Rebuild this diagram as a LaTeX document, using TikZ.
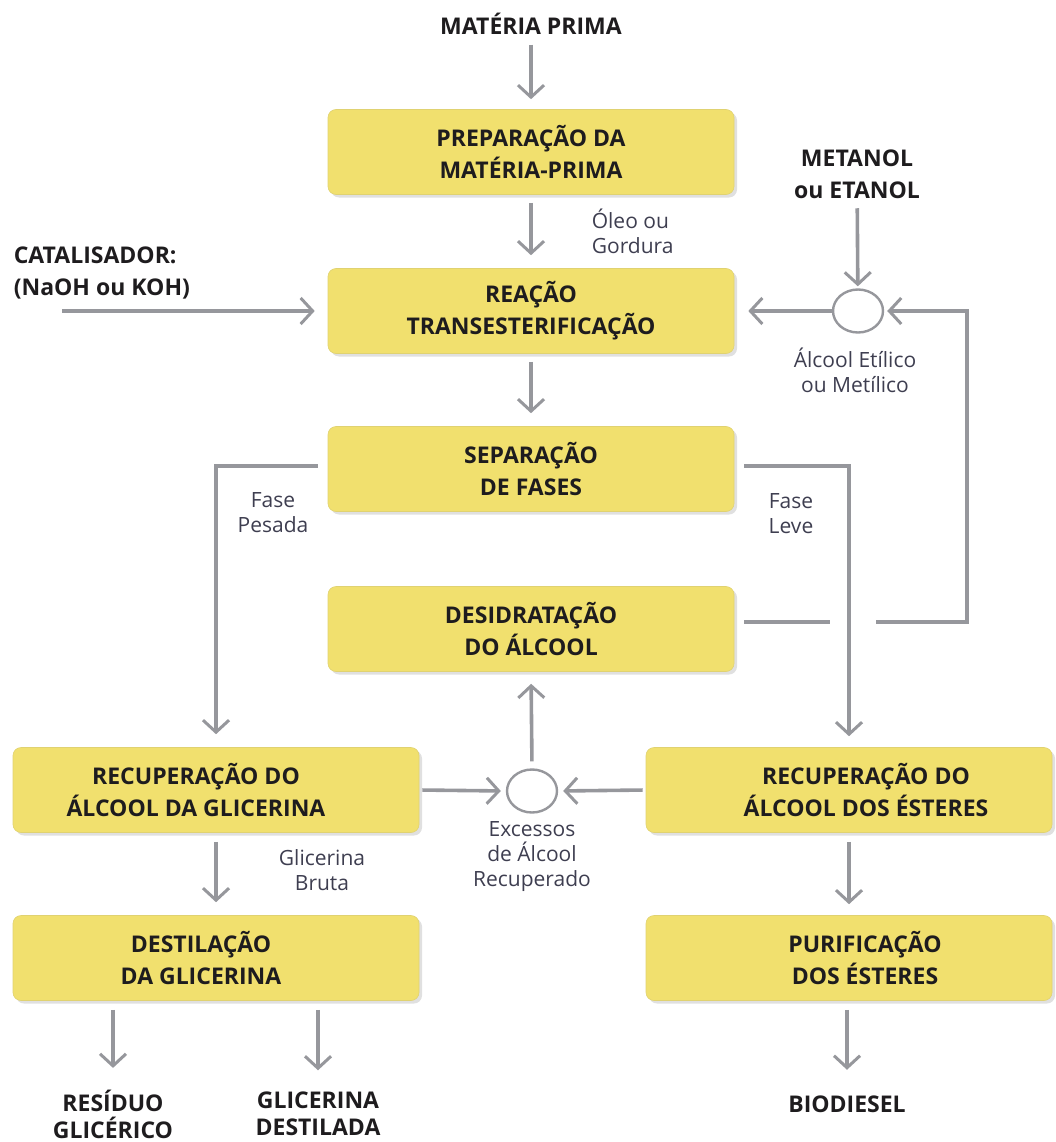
\documentclass[tikz,border=0pt]{standalone}
\usepackage{fontspec}
\setmainfont{Open Sans}
\usetikzlibrary{arrows.meta,positioning,shapes.geometric,shadows}
\definecolor{boxy}{RGB}{241,224,110}
\definecolor{wire}{RGB}{150,151,156}
\definecolor{ink}{RGB}{30,28,30}
\definecolor{note}{RGB}{62,62,80}
\tikzset{
  every picture/.style={x=1pt, y=-1pt, line width=3.6pt, line join=miter,
    >={Straight Barb[length=12pt,width=26pt,line width=3pt]}},
  % Kästen
  box/.style={rectangle, rounded corners=8pt, fill=boxy, draw=boxy!85!gray, line width=0.6pt,
    minimum width=406pt, minimum height=85pt, inner sep=0pt, align=center, text=ink,
    font=\fontsize{23}{32}\selectfont\bfseries,
    drop shadow={shadow xshift=3pt, shadow yshift=-3pt, opacity=0.12, fill=black}},
  boxtxt/.style={align=center, text=ink, font=\fontsize{23}{32}\selectfont\bfseries},
  head/.style={align=center, text=ink, font=\fontsize{23}{32}\selectfont\bfseries, inner sep=2pt},
  foot/.style={head, font=\fontsize{23}{27}\selectfont\bfseries},
  note/.style={align=center, text=note, font=\fontsize{21}{25}\selectfont, inner sep=0pt},
  % Linien
  flow/.style={wire, ->},
  wireline/.style={wire},
  joint/.style={ellipse, draw=wire, line width=2.4pt, minimum width=50pt, minimum height=43pt, inner sep=0pt},
}
\begin{document}
\begin{tikzpicture}
  \useasboundingbox (0,0) rectangle (1055,1142);
  % Kästen
  \node[box] (prep) at (531,152) {PREPARAÇÃO DA\\MATÉRIA-PRIMA};
  \node[box] (reac) at (531,311) {REAÇÃO\\TRANSESTERIFICAÇÃO};
  \node[box] (sep) at (531,469) {SEPARAÇÃO\\DE FASES};
  \node[box] (desid) at (531,629) {DESIDRATAÇÃO\\DO ÁLCOOL};
  \node[box, label={[boxtxt, xshift=-20pt]center:{RECUPERAÇÃO DO\\ÁLCOOL DA GLICERINA}}] (recg) at (216,790) {};
  \node[box, label={[boxtxt, xshift=17pt]center:{RECUPERAÇÃO DO\\ÁLCOOL DOS ÉSTERES}}] (rece) at (849,790) {};
  \node[box, label={[boxtxt, xshift=-15pt]center:{DESTILAÇÃO\\DA GLICERINA}}] (dest) at (216,958) {};
  \node[box, label={[boxtxt, xshift=16pt]center:{PURIFICAÇÃO\\DOS ÉSTERES}}] (puri) at (849,958) {};
  % Ein- und Ausgänge
  \node[head] (mp) at (531,24) {MATÉRIA PRIMA};
  \node[head, anchor=west, align=left] (cat) at (10,273) {CATALISADOR:\\(NaOH ou KOH)};
  \coordinate (catin) at (62,311);
  \node[head] (met) at (857,174) {METANOL\\ou ETANOL};
  \node[foot] (res) at (113,1114) {RESÍDUO\\GLICÉRICO};
  \node[foot] (glid) at (318,1114) {GLICERINA\\DESTILADA};
  \node[foot] (bio) at (847,1104) {BIODIESEL};
  % Mischpunkte
  \node[joint] (mix) at (858,311) {};
  \node[joint] (exc) at (532,791) {};
  % Beschriftungen
  \node[note, anchor=west, align=left] at (590,231) {Óleo ou\\Gordura};
  \node[note] at (855,370) {Álcool Etílico\\ou Metílico};
  \node[note] at (273,513) {Fase\\Pesada};
  \node[note] at (791,514) {Fase\\Leve};
  \node[note] at (532,857) {Excessos\\de Álcool\\Recuperado};
  \node[note] at (322,870) {Glicerina\\Bruta};
  % Hauptlinie
  \draw[flow, shorten <=6pt, shorten >=10pt] (mp) -- (prep);
  \draw[flow, shorten <=8pt, shorten >=13pt] (prep) -- (reac);
  \draw[flow, shorten <=8pt, shorten >=13pt] (reac) -- (sep);
  \draw[flow, shorten >=13pt] (catin) -- (reac.west);
  \draw[flow, shorten <=6pt, shorten >=2pt] (met) -- (mix);
  \draw[flow, shorten >=14pt] (mix) -- (reac.east);
  % Phasentrennung
  \draw[flow, shorten <=10pt, shorten >=13pt] ([yshift=3pt]sep.west) -| (recg.north);
  \draw[flow, shorten <=10pt, shorten >=11pt] ([yshift=3pt]sep.east) -| (rece.north);
  % Alkoholrückführung
  \coordinate (gapL) at (830,622);
  \coordinate (gapR) at (876,622);
  \coordinate (loop) at (967,622);
  \draw[wireline, shorten <=10pt] (desid.east |- gapL) -- (gapL);
  \draw[flow, shorten >=3pt] (gapR) -- (loop) |- (mix.east);
  \draw[flow, shorten <=3pt, shorten >=5pt] (recg.east) -- (exc.west);
  \draw[flow, shorten <=3pt, shorten >=5pt] (rece.west) -- (exc.east);
  \draw[flow, shorten <=7pt, shorten >=12pt] (exc.north) -- (desid.south);
  % Produkte
  \draw[flow, shorten <=9pt, shorten >=13pt] (recg) -- (dest);
  \draw[flow, shorten <=9pt, shorten >=11pt] (rece) -- (puri);
  \draw[flow, shorten <=9pt, shorten >=18pt] (dest.south -| res.north) -- (res.north);
  \draw[flow, shorten <=9pt, shorten >=18pt] (dest.south -| glid.north) -- (glid.north);
  \draw[flow, shorten <=9pt, shorten >=22pt] (puri.south -| bio.north) -- (bio.north);
\end{tikzpicture}
\end{document}
